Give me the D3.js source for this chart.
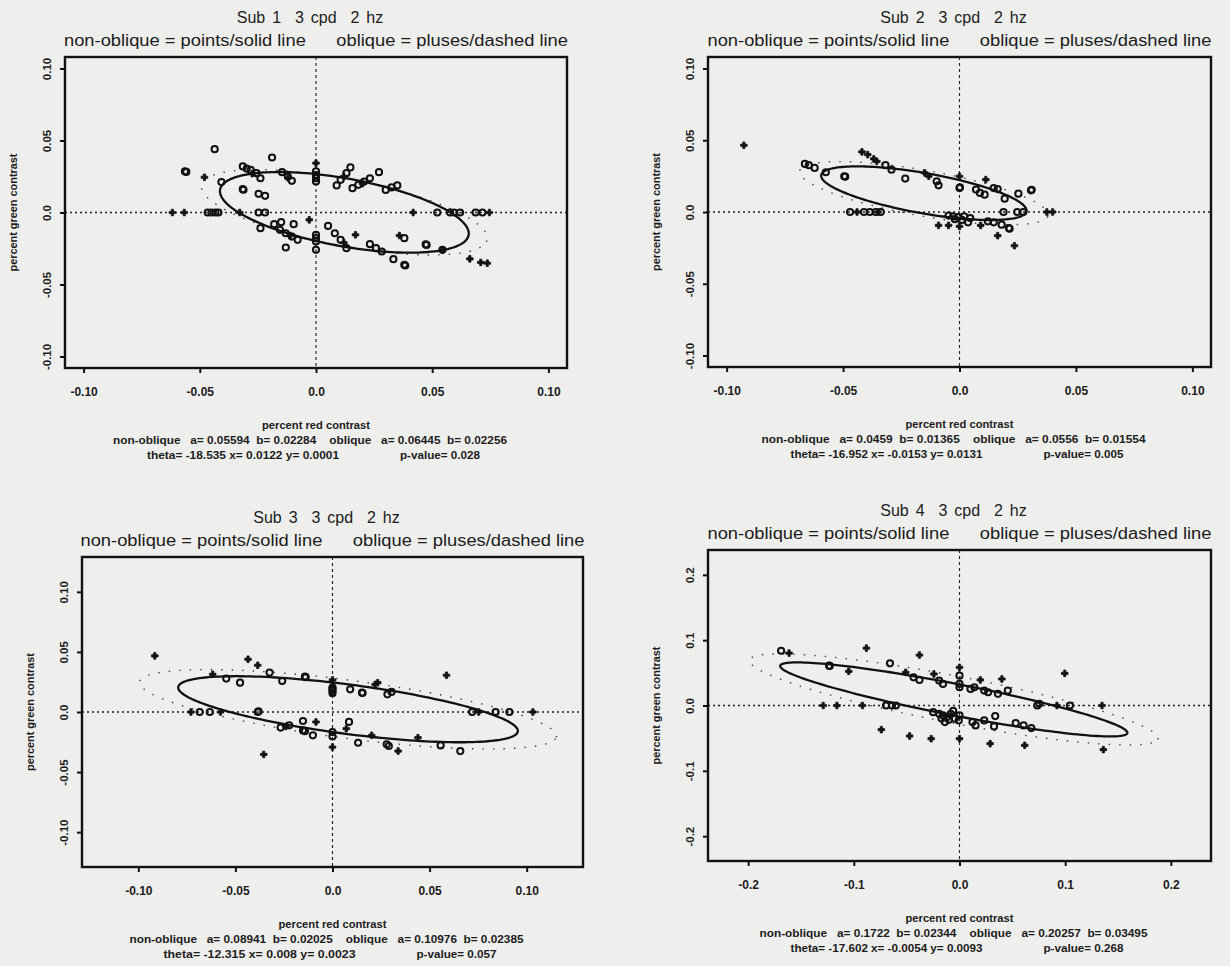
<!DOCTYPE html>
<html>
<head>
<meta charset="utf-8">
<script src="https://cdn.jsdelivr.net/npm/d3@7"></script>
<style>
  body { margin: 0; background: #eeeeec; }
  text { font-family: "Liberation Sans", Arial, sans-serif; fill: #1c1c1c; }
</style>
</head>
<body>
<div id="chart"></div>
<script>
// ---- data ----
const titles = ["Sub 1  3 cpd  2 hz", "Sub 2  3 cpd  2 hz", "Sub 3  3 cpd  2 hz", "Sub 4  3 cpd  2 hz"];
const subtitle = "non-oblique = points/solid line      oblique = pluses/dashed line";
const xAxisTitle = "percent red contrast";
const yAxisTitle = "percent green contrast";

// ellipse fits (from the text under each panel)
const nonObliqueA = [0.05594, 0.0459, 0.08941, 0.1722];
const nonObliqueB = [0.02284, 0.01365, 0.02025, 0.02344];
const obliqueA = [0.06445, 0.0556, 0.10976, 0.20257];
const obliqueB = [0.02256, 0.01554, 0.02385, 0.03495];
const thetaDeg = [-18.535, -16.952, -12.315, -17.602];
const centerX = [0.0122, -0.0153, 0.008, -0.0054];
const centerY = [0.0001, 0.0131, 0.0023, 0.0093];
const pValues = [0.028, 0.005, 0.057, 0.268];

// axis ticks
const ticksSmall = [-0.10, -0.05, 0, 0.05, 0.10];
const tickLabelsSmall = ["-0.10", "-0.05", "0.0", "0.05", "0.10"];
const ticksLarge = [-0.2, -0.1, 0, 0.1, 0.2];
const tickLabelsLarge = ["-0.2", "-0.1", "0.0", "0.1", "0.2"];
const axisLimits = [0.108, 0.108, 0.129, 0.238];

// Sub 1 points
const sub1CircleX = [-0.0436, -0.0564, -0.0558, -0.0407, -0.0315, -0.0312, -0.0247, -0.0219,
  -0.0466, -0.045, -0.0433, -0.042, -0.0247, -0.0219, 0.0522, 0.0577, 0.0594, 0.062, 0.0687, 0.0716,
  -0.0315, -0.0298, -0.0281, -0.0256, -0.0239, -0.0189, -0.0146, -0.0121, -0.0104,
  0, 0, 0, 0, 0.0148, 0.0131, 0.0106, 0.0089, 0.0232, 0.0207, 0.0182, 0.0157, 0.0271,
  0.035, 0.0325, 0.03, -0.0239, -0.018, -0.015, -0.0096, -0.0155, -0.013, -0.0104, -0.0079, -0.013,
  0, 0, 0, 0, 0.0052, 0.0081, 0.0106, 0.0131, 0.0232, 0.0258, 0.0283, 0.038, 0.0476, 0.0472, 0.0544,
  0.0333, 0.038, 0.0384];
const sub1CircleY = [0.044, 0.0285, 0.0282, 0.0211, 0.0162, 0.0158, 0.013, 0.0116,
  0, 0, 0, 0, 0, 0, 0, 0, 0, 0, 0, 0,
  0.032, 0.0305, 0.0296, 0.0273, 0.0238, 0.0382, 0.028, 0.025, 0.022,
  0.0285, 0.026, 0.0238, 0.0215, 0.0313, 0.0273, 0.0227, 0.0188, 0.0238, 0.0215, 0.0192, 0.0169, 0.028,
  0.0188, 0.0174, 0.0157, -0.0109, -0.0081, -0.0067, -0.0081, -0.012, -0.0144, -0.0167, -0.019, -0.0243,
  -0.0155, -0.0178, -0.0201, -0.0259, -0.0093, -0.0144, -0.019, -0.0248, -0.022, -0.0248, -0.0271, -0.0178, -0.0225, -0.0222, -0.0259,
  -0.0324, -0.0363, -0.0368];
const sub1PlusX = [-0.048, -0.0618, -0.0567, -0.0328, 0, -0.0029, 0.017, 0.0359, 0.0418, 0.0746,
  0.0662, 0.0709, 0.0737, -0.0275, -0.012, 0.012, 0.02, -0.011, 0.012, 0.0545];
const sub1PlusY = [0.0245, 0, 0, 0, 0.0343, -0.0051, -0.0155, -0.016, 0, 0,
  -0.0322, -0.0347, -0.0352, 0.027, 0.024, 0.025, 0.02, -0.016, -0.021, -0.026];

// Sub 2 points
const sub2CircleX = [-0.0664, -0.0647, -0.0622, -0.0574, -0.0495, -0.0491, -0.0318, -0.0292, -0.0233, -0.0098, -0.009,
  0, 0.0002, 0.0071, 0.0088, 0.0108, 0.0147, 0.0164, 0.0194, 0.0253, 0.0307, 0.031,
  -0.047, -0.041, -0.0385, -0.036, -0.0338, 0.0189, 0.0248, 0.0274,
  -0.0047, -0.0027, -0.0005, 0.002, 0.0046, -0.002, 0.001,
  0.0037, 0.0122, 0.0147, 0.0181, 0.0215, 0.0212];
const sub2CircleY = [0.0335, 0.0326, 0.0307, 0.0277, 0.0249, 0.0246, 0.0326, 0.0295, 0.0233, 0.0214, 0.0186,
  0.0167, 0.0172, 0.0156, 0.0133, 0.0121, 0.0167, 0.016, 0.0093, 0.0128, 0.0151, 0.0155,
  0, 0, 0, 0, 0, 0, 0, 0,
  -0.0025, -0.003, -0.0035, -0.003, -0.0042, -0.005, -0.0055,
  -0.0072, -0.0065, -0.0072, -0.0088, -0.0116, -0.0112];
const sub2PlusX = [-0.0926, -0.0419, -0.0394, -0.0368, -0.0355, -0.0149, -0.0132, 0, 0.0113, 0.0375, 0.04,
  -0.009, -0.0047, 0, 0.0091, 0.0164, 0.0236, -0.044, -0.035];
const sub2PlusY = [0.0465, 0.0419, 0.04, 0.037, 0.0353, 0.0272, 0.0249, 0.0249, 0.0226, 0, 0,
  -0.0093, -0.0093, -0.01, -0.0093, -0.0165, -0.0235, 0, 0];

// Sub 3 points
const sub3CircleX = [-0.0547, -0.0476, -0.0324, -0.0259, -0.0142, -0.0138,
  0, 0, 0, 0, 0.0091, 0.0152, 0.0155, 0.0283, 0.0304,
  -0.0684, -0.0632, -0.0385, -0.0381, 0.0719, 0.084, 0.0911,
  -0.0267, -0.0223, -0.0152, -0.0152, -0.0142, -0.0101, 0, 0, 0.0085, 0.0132, 0.0279, 0.029, 0.0557, 0.0658];
const sub3CircleY = [0.0278, 0.0244, 0.0328, 0.0258, 0.0294, 0.029,
  0.0203, 0.0175, 0.0156, 0.019, 0.0189, 0.0161, 0.0158, 0.0147, 0.0167,
  0, 0, 0, 0.0005, 0, 0, 0,
  -0.013, -0.0111, -0.0075, -0.0153, -0.016, -0.0194, -0.0167, -0.0203, -0.0083, -0.0256, -0.0269, -0.0283, -0.0278, -0.0325];
const sub3PlusX = [-0.0915, -0.0435, -0.0385, -0.0617, 0, 0.0233, 0.0587, -0.0729, -0.0577, 0.0753, 0.1032,
  -0.0085, 0, 0.0071, 0.0202, 0.0338, 0.044, -0.0354, -0.024, 0.022];
const sub3PlusY = [0.0467, 0.0439, 0.0389, 0.0314, 0.0267, 0.0244, 0.0306, 0, 0, 0, 0,
  -0.0083, -0.0292, -0.0139, -0.0194, -0.0325, -0.0214, -0.0353, -0.012, 0.023];

// Sub 4 points
const sub4CircleX = [-0.1688, -0.1234, -0.1228, -0.0658, -0.0435, -0.0379, -0.0193, -0.0156, 0, 0, 0,
  0.0104, 0.0141, 0.0234, 0.0271, 0.0364, 0.0457,
  -0.0695, -0.0639, -0.0602, 0.0736, 0.0755, 0.1045,
  -0.0249, -0.0193, -0.0156, -0.0119, -0.0082, -0.0045, -0.0007, -0.0138, -0.017, -0.01, -0.006, 0,
  0.0123, 0.0152, 0.0234, 0.0327, 0.0338, 0.0532, 0.0606, 0.068];
const sub4CircleY = [0.0838, 0.0609, 0.0605, 0.0645, 0.0431, 0.0391, 0.0381, 0.033, 0.0457, 0.033, 0.0279,
  0.0254, 0.0279, 0.0228, 0.0203, 0.0178, 0.0228,
  0, 0, 0, 0, 0.0025, 0,
  -0.0102, -0.0127, -0.0152, -0.0178, -0.0127, -0.0203, -0.0228, -0.0254, -0.02, -0.022, -0.008, -0.015,
  -0.0254, -0.0305, -0.0228, -0.032, -0.0162, -0.0269, -0.0305, -0.0345];
const sub4PlusX = [-0.1613, -0.1048, -0.0881, -0.0509, -0.0379, -0.0242, 0, 0.0197, 0.0401, 0.0996,
  -0.129, -0.116, -0.0918, 0.0922, 0.1349, -0.074, -0.0472, -0.0268, 0, 0.029, 0.0617, 0.1361];
const sub4PlusY = [0.0802, 0.0523, 0.0878, 0.0508, 0.0772, 0.0482, 0.0584, 0.0391, 0.0406, 0.0492,
  0, 0, 0, 0, 0, -0.037, -0.0467, -0.0508, -0.0508, -0.0584, -0.0609, -0.0675];

// ---- layout ----
const width = 1230, height = 966;
const layout = [
  { l: 65, t: 57, r: 567, b: 368, statsW: 394 },
  { l: 708, t: 57, r: 1211, b: 367, statsW: 384 },
  { l: 82, t: 557, r: 583, b: 867, statsW: 394 },
  { l: 708, t: 550, r: 1211, b: 861, statsW: 388 }
];
const circleX = [sub1CircleX, sub2CircleX, sub3CircleX, sub4CircleX];
const circleY = [sub1CircleY, sub2CircleY, sub3CircleY, sub4CircleY];
const plusX = [sub1PlusX, sub2PlusX, sub3PlusX, sub4PlusX];
const plusY = [sub1PlusY, sub2PlusY, sub3PlusY, sub4PlusY];

let svg = d3.select("#chart")
  .append("svg")
  .attr("width", width)
  .attr("height", height);

svg.append("rect").attr("width", width).attr("height", height).attr("fill", "#eeeeec");

// points of an ellipse given its fit parameters
let ellipsePoints = (a, b, thetaD, cx, cy) => {
  let th = thetaD * Math.PI / 180;
  return d3.range(0, 361, 2).map(deg => {
    let t = deg * Math.PI / 180;
    return [cx + a * Math.cos(t) * Math.cos(th) - b * Math.sin(t) * Math.sin(th),
            cy + a * Math.cos(t) * Math.sin(th) + b * Math.sin(t) * Math.cos(th)];
  });
};

let drawPanel = (i) => {
  let box = layout[i];
  let lim = axisLimits[i];
  let ticks = i === 3 ? ticksLarge : ticksSmall;
  let labels = i === 3 ? tickLabelsLarge : tickLabelsSmall;
  let cx = (box.l + box.r) / 2;

  let x = d3.scaleLinear().domain([-lim, lim]).range([box.l, box.r]);
  let y = d3.scaleLinear().domain([-lim, lim]).range([box.b, box.t]);

  let g = svg.append("g");

  // titles
  g.append("text")
    .attr("x", cx - 6).attr("y", box.t - 34)
    .attr("text-anchor", "middle")
    .style("font-size", "16px")
    .style("white-space", "pre")
    .style("word-spacing", "2.5px")
    .text(titles[i]);
  g.append("text")
    .attr("x", cx).attr("y", box.t - 11)
    .attr("text-anchor", "middle")
    .style("font-size", "16px")
    .style("white-space", "pre")
    .attr("textLength", 504).attr("lengthAdjust", "spacingAndGlyphs")
    .text(subtitle);

  // reference lines through the origin
  g.append("line")
    .attr("x1", box.l).attr("x2", box.r)
    .attr("y1", y(0)).attr("y2", y(0))
    .attr("stroke", "#222").attr("stroke-width", 1.7)
    .attr("stroke-dasharray", "2,3");
  g.append("line")
    .attr("x1", x(0)).attr("x2", x(0))
    .attr("y1", box.t).attr("y2", box.b)
    .attr("stroke", "#222").attr("stroke-width", 1.1)
    .attr("stroke-dasharray", "3,3");

  let line = d3.line().x(d => x(d[0])).y(d => y(d[1]));

  // oblique fit, dashed
  g.append("path")
    .attr("d", line(ellipsePoints(obliqueA[i], obliqueB[i], thetaDeg[i], centerX[i], centerY[i])))
    .attr("fill", "none").attr("stroke", "#444").attr("stroke-width", 1.4)
    .attr("stroke-dasharray", "1.5,9");
  // non-oblique fit, solid
  g.append("path")
    .attr("d", line(ellipsePoints(nonObliqueA[i], nonObliqueB[i], thetaDeg[i], centerX[i], centerY[i])))
    .attr("fill", "none").attr("stroke", "#111").attr("stroke-width", 2.3);

  // non-oblique points
  g.selectAll(".pt")
    .data(circleX[i].map((v, k) => [v, circleY[i][k]]))
    .enter().append("circle")
    .attr("class", "pt")
    .attr("cx", d => x(d[0])).attr("cy", d => y(d[1]))
    .attr("r", 3.1)
    .attr("fill", "none").attr("stroke", "#111").attr("stroke-width", 2);

  // oblique pluses
  g.selectAll(".plus")
    .data(plusX[i].map((v, k) => [v, plusY[i][k]]))
    .enter().append("path")
    .attr("class", "plus")
    .attr("transform", d => `translate(${x(d[0])},${y(d[1])})`)
    .attr("d", d3.symbol(d3.symbolCross, 24))
    .attr("fill", "#111").attr("stroke", "#111").attr("stroke-width", 0.8);

  // box
  g.append("rect")
    .attr("x", box.l).attr("y", box.t)
    .attr("width", box.r - box.l).attr("height", box.b - box.t)
    .attr("fill", "none").attr("stroke", "#111").attr("stroke-width", 2.4);

  // x axis
  let xAxis = g.append("g")
    .attr("transform", `translate(0,${box.b})`)
    .call(d3.axisBottom(x).tickValues(ticks).tickFormat((d, k) => labels[k]).tickSize(5).tickPadding(14));
  xAxis.select(".domain").remove();
  xAxis.selectAll("line").attr("stroke", "#111").attr("stroke-width", 2);
  xAxis.selectAll("text")
    .attr("fill", "#1c1c1c")
    .style("font-family", "Liberation Sans, Arial, sans-serif")
    .style("font-size", "12px").style("font-weight", "bold");

  // y axis with rotated labels
  let yAxis = g.append("g")
    .attr("transform", `translate(${box.l},0)`)
    .call(d3.axisLeft(y).tickValues(ticks).tickFormat((d, k) => labels[k]).tickSize(5));
  yAxis.select(".domain").remove();
  yAxis.selectAll("line").attr("stroke", "#111").attr("stroke-width", 2);
  yAxis.selectAll("text")
    .attr("transform", "rotate(-90)")
    .attr("x", 0).attr("y", -14).attr("dy", 0)
    .attr("text-anchor", "middle")
    .attr("fill", "#1c1c1c")
    .style("font-family", "Liberation Sans, Arial, sans-serif")
    .style("font-size", "11.5px").style("font-weight", "bold");

  // axis titles
  g.append("text")
    .attr("transform", `translate(${box.l - 48},${(box.t + box.b) / 2}) rotate(-90)`)
    .attr("text-anchor", "middle")
    .style("font-size", "10px").style("font-weight", "bold")
    .attr("textLength", 118).attr("lengthAdjust", "spacingAndGlyphs")
    .text(yAxisTitle);
  g.append("text")
    .attr("x", cx).attr("y", box.b + 61)
    .attr("text-anchor", "middle")
    .style("font-size", "10.5px").style("font-weight", "bold")
    .attr("textLength", 108).attr("lengthAdjust", "spacingAndGlyphs")
    .text(xAxisTitle);

  // fit statistics
  g.append("text")
    .attr("x", cx - 6).attr("y", box.b + 76)
    .attr("text-anchor", "middle")
    .style("font-size", "11px").style("font-weight", "bold").style("white-space", "pre")
    .attr("textLength", box.statsW).attr("lengthAdjust", "spacingAndGlyphs")
    .text(`non-oblique   a= ${nonObliqueA[i]}  b= ${nonObliqueB[i]}    oblique   a= ${obliqueA[i]}  b= ${obliqueB[i]}`);
  g.append("text")
    .attr("x", cx + 23).attr("y", box.b + 91)
    .attr("text-anchor", "end")
    .style("font-size", "11px").style("font-weight", "bold").style("white-space", "pre")
    .attr("textLength", 192).attr("lengthAdjust", "spacingAndGlyphs")
    .text(`theta= ${thetaDeg[i]} x= ${centerX[i]} y= ${centerY[i]}`);
  g.append("text")
    .attr("x", cx + 84).attr("y", box.b + 91)
    .attr("text-anchor", "start")
    .style("font-size", "11px").style("font-weight", "bold").style("white-space", "pre")
    .attr("textLength", 80).attr("lengthAdjust", "spacingAndGlyphs")
    .text(`p-value= ${pValues[i]}`);
};

for (let i = 0; i < 4; i++) drawPanel(i);
</script>
</body>
</html>
